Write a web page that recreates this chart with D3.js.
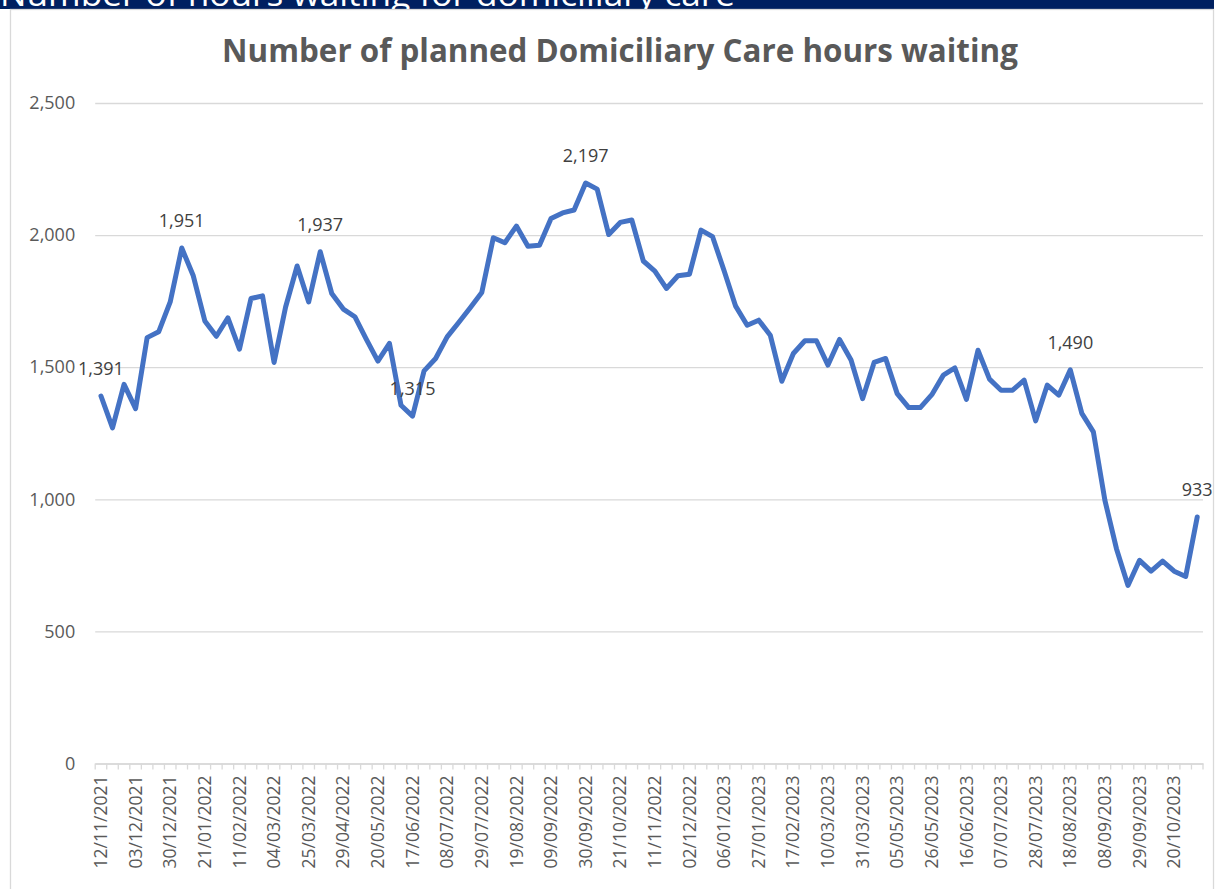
<!DOCTYPE html>
<html>
  <head>
    <meta charset="utf-8">
    <title>Domiciliary Care hours waiting</title>
    <script src="https://cdn.jsdelivr.net/npm/d3@7"></script>
    <style>
      body { margin: 0; background: #fff; }
      text { font-family: "Open Sans", sans-serif; }
    </style>
  </head>
  <body>
    <svg id="chart" width="1223" height="889"></svg>
    <script>
      // week dates (every third one is shown on the axis)
      var weeks = [
        "12/11/2021", "19/11/2021", "26/11/2021", "03/12/2021", "10/12/2021", "17/12/2021",
        "30/12/2021", "07/01/2022", "14/01/2022", "21/01/2022", "28/01/2022", "04/02/2022",
        "11/02/2022", "18/02/2022", "25/02/2022", "04/03/2022", "11/03/2022", "18/03/2022",
        "25/03/2022", "01/04/2022", "14/04/2022", "29/04/2022", "06/05/2022", "13/05/2022",
        "20/05/2022", "27/05/2022", "10/06/2022", "17/06/2022", "24/06/2022", "01/07/2022",
        "08/07/2022", "15/07/2022", "22/07/2022", "29/07/2022", "05/08/2022", "12/08/2022",
        "19/08/2022", "26/08/2022", "02/09/2022", "09/09/2022", "16/09/2022", "23/09/2022",
        "30/09/2022", "07/10/2022", "14/10/2022", "21/10/2022", "28/10/2022", "04/11/2022",
        "11/11/2022", "18/11/2022", "25/11/2022", "02/12/2022", "09/12/2022", "16/12/2022",
        "06/01/2023", "13/01/2023", "20/01/2023", "27/01/2023", "03/02/2023", "10/02/2023",
        "17/02/2023", "24/02/2023", "03/03/2023", "10/03/2023", "17/03/2023", "24/03/2023",
        "31/03/2023", "14/04/2023", "28/04/2023", "05/05/2023", "12/05/2023", "19/05/2023",
        "26/05/2023", "02/06/2023", "09/06/2023", "16/06/2023", "23/06/2023", "30/06/2023",
        "07/07/2023", "14/07/2023", "21/07/2023", "28/07/2023", "04/08/2023", "11/08/2023",
        "18/08/2023", "25/08/2023", "01/09/2023", "08/09/2023", "15/09/2023", "22/09/2023",
        "29/09/2023", "06/10/2023", "13/10/2023", "20/10/2023", "27/10/2023", "03/11/2023"
      ];
      // planned hours waiting
      var hours = [
        1391, 1270, 1435, 1343, 1612, 1634, 1747, 1951, 1846, 1675, 1617, 1687,
        1568, 1760, 1770, 1518, 1728, 1883, 1747, 1937, 1779, 1720, 1691, 1605,
        1523, 1590, 1356, 1315, 1486, 1533, 1615, 1669, 1725, 1783, 1990, 1971,
        2034, 1958, 1962, 2063, 2084, 2095, 2197, 2174, 2002, 2048, 2057, 1902,
        1864, 1798, 1846, 1852, 2019, 1994, 1865, 1731, 1659, 1678, 1621, 1447,
        1552, 1600, 1600, 1508, 1605, 1527, 1381, 1518, 1533, 1400, 1347, 1347,
        1396, 1470, 1497, 1378, 1564, 1455, 1413, 1413, 1451, 1297, 1432, 1394,
        1490, 1325, 1255, 996, 813, 674, 769, 728, 766, 728, 708, 933
      ];
      // points that carry a value label
      var labelled = [0, 7, 19, 27, 42, 84, 95];
      var yTicks = [0, 500, 1000, 1500, 2000, 2500];

      var data = weeks.map(function(w, i) { return { week: w, hours: hours[i] }; });

      var svg = d3.select("#chart");
      var plot = { left: 95.2, right: 1203, top: 103, bottom: 763.5 };

      // header strip, mostly cut off
      svg.append("defs").append("clipPath").attr("id", "band")
        .append("rect").attr("width", 1214).attr("height", 9);
      svg.append("rect").attr("width", 1214).attr("height", 9).attr("fill", "#002060");
      svg.append("text")
        .attr("clip-path", "url(#band)")
        .attr("x", 0).attr("y", 6)
        .attr("textLength", 735).attr("lengthAdjust", "spacingAndGlyphs")
        .style("font-size", "32px").attr("fill", "#fff")
        .text("Number of hours waiting for domiciliary care");

      // chart frame
      svg.append("rect")
        .attr("x", 10.5).attr("y", 9.5).attr("width", 1203).attr("height", 900)
        .attr("fill", "#fff").attr("stroke", "#d9d9d9").attr("stroke-width", 1.3);

      var title = svg.append("text")
        .attr("x", 620).attr("y", 62)
        .attr("text-anchor", "middle")
        .attr("fill", "#595959")
        .style("font-size", "30px").style("font-weight", "bold")
        .text("Number of planned Domiciliary Care hours waiting");
      var tw = title.node().getComputedTextLength();
      title.style("font-size", (30 * 796 / tw) + "px");

      var x = d3.scaleBand().domain(weeks).range([plot.left, plot.right]);
      var y = d3.scaleLinear().domain([0, 2500]).range([plot.bottom, plot.top]);

      // gridlines + y labels
      var yAxis = d3.axisLeft(y)
        .tickValues(yTicks)
        .tickFormat(d3.format(","))
        .tickSizeInner(-(plot.right - plot.left))
        .tickSizeOuter(0)
        .tickPadding(20);
      var gy = svg.append("g").attr("transform", "translate(" + plot.left + ",0)").call(yAxis);
      gy.select(".domain").remove();
      gy.selectAll("line").attr("stroke", "#d9d9d9").attr("stroke-width", 1.3);
      gy.selectAll("text").attr("fill", "#595959").style("font-size", "18px");

      // x axis: tick at every category boundary, label every third week
      var xAxis = d3.axisBottom(x)
        .tickValues(weeks.filter(function(d, i) { return i % 3 === 0; }))
        .tickSize(0)
        .tickPadding(0);
      var gx = svg.append("g").attr("transform", "translate(0," + plot.bottom + ")").call(xAxis);
      gx.select(".domain").attr("stroke", "#d9d9d9").attr("stroke-width", 1.3);
      gx.selectAll("text")
        .attr("transform", "rotate(-90)")
        .attr("x", -12).attr("y", 0).attr("dy", "0.35em")
        .attr("text-anchor", "end")
        .attr("fill", "#595959")
        .style("font-size", "17.5px");
      gx.selectAll(".edge")
        .data(d3.range(weeks.length + 1))
        .enter().append("line")
          .attr("x1", function(k) { return plot.left + k * x.step(); })
          .attr("x2", function(k) { return plot.left + k * x.step(); })
          .attr("y1", 0).attr("y2", 6)
          .attr("stroke", "#d9d9d9").attr("stroke-width", 1.3);

      function cx(d) { return x(d.week) + x.bandwidth() / 2; }

      svg.append("path")
        .datum(data)
        .attr("fill", "none")
        .attr("stroke", "#4472C4")
        .attr("stroke-width", 5)
        .attr("stroke-linejoin", "round")
        .attr("stroke-linecap", "round")
        .attr("d", d3.line().x(cx).y(function(d) { return y(d.hours); }));

      svg.selectAll(".value")
        .data(labelled.map(function(i) { return data[i]; }))
        .enter().append("text")
          .attr("class", "value")
          .attr("x", cx)
          .attr("y", function(d) { return y(d.hours) - 21; })
          .attr("text-anchor", "middle")
          .attr("fill", "#404040")
          .style("font-size", "18px")
          .text(function(d) { return d3.format(",")(d.hours); });
    </script>
  </body>
</html>
